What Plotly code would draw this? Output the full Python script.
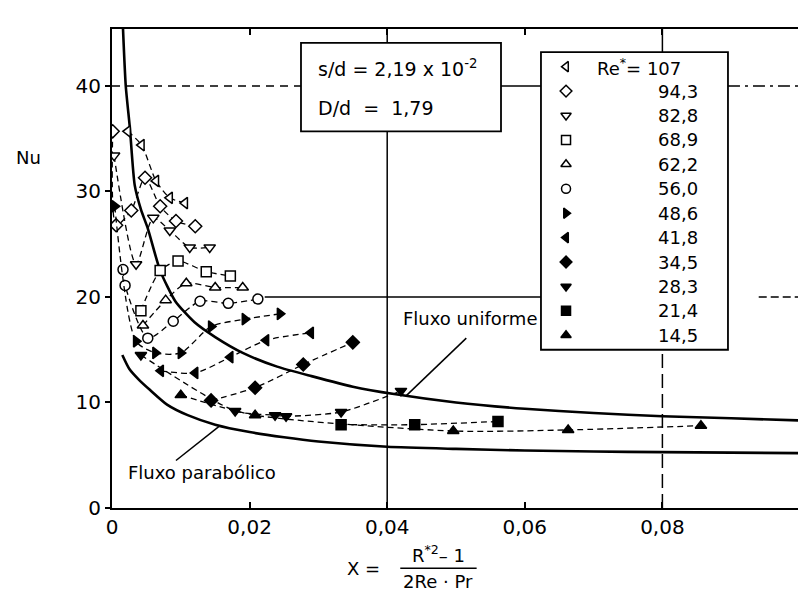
import plotly.graph_objects as go

# ---------------- data ----------------
re_labels = ["107", "94,3", "82,8", "68,9", "62,2", "56,0",
             "48,6", "41,8", "34,5", "28,3", "21,4", "14,5"]
symbols = ["triangle-left", "diamond", "triangle-down", "square", "triangle-up", "circle",
           "triangle-right", "triangle-left", "diamond", "triangle-down", "square", "triangle-up"]
fills = ["white"] * 6 + ["black"] * 6

x_107 = [0.0023, 0.0043, 0.0064, 0.0084, 0.0106]
nu_107 = [35.7, 34.4, 31.0, 29.4, 28.9]
x_943 = [0.0001, 0.0006, 0.0028, 0.0048, 0.0070, 0.0093, 0.0121]
nu_943 = [35.7, 26.8, 28.2, 31.3, 28.6, 27.2, 26.7]
x_828 = [0.0003, 0.0035, 0.0060, 0.0084, 0.0113, 0.0142]
nu_828 = [33.4, 23.1, 27.5, 26.3, 24.7, 24.7]
x_689 = [0.0042, 0.0070, 0.0096, 0.0137, 0.0172]
nu_689 = [18.7, 22.5, 23.4, 22.4, 22.0]
x_622 = [0.0045, 0.0078, 0.0108, 0.0150, 0.0190]
nu_622 = [17.3, 19.7, 21.3, 20.9, 20.9]
x_560 = [0.0016, 0.0019, 0.0052, 0.0089, 0.0128, 0.0169, 0.0212]
nu_560 = [22.6, 21.1, 16.1, 17.7, 19.6, 19.4, 19.8]
x_486 = [0.0004, 0.0035, 0.0063, 0.0100, 0.0144, 0.0193, 0.0244]
nu_486 = [28.6, 15.8, 14.7, 14.7, 17.2, 17.9, 18.4]
x_418 = [0.0071, 0.0121, 0.0172, 0.0224, 0.0289]
nu_418 = [13.0, 12.8, 14.3, 15.9, 16.6]
x_345 = [0.0144, 0.0208, 0.0278, 0.0350]
nu_345 = [10.2, 11.4, 13.6, 15.7]
x_283 = [0.0042, 0.0179, 0.0237, 0.0253, 0.0333, 0.0420]
nu_283 = [14.5, 9.2, 8.8, 8.7, 9.1, 11.1]
x_214 = [0.0333, 0.0440, 0.0561]
nu_214 = [7.9, 7.9, 8.2]
x_145 = [0.0100, 0.0208, 0.0496, 0.0663, 0.0856]
nu_145 = [10.7, 8.8, 7.3, 7.4, 7.8]

series_x = [x_107, x_943, x_828, x_689, x_622, x_560, x_486, x_418, x_345, x_283, x_214, x_145]
series_nu = [nu_107, nu_943, nu_828, nu_689, nu_622, nu_560, nu_486, nu_418, nu_345, nu_283, nu_214, nu_145]

# theoretical curves
x_unif = [0.0016, 0.0020, 0.0026, 0.0033, 0.0042, 0.0052, 0.0070, 0.0092, 0.012, 0.015,
          0.019, 0.024, 0.029, 0.035, 0.041, 0.05, 0.06, 0.07, 0.08, 0.09, 0.1]
nu_unif = [45.4, 40.0, 36.0, 30.6, 28.3, 26.5, 22.5, 19.6, 17.6, 16.2,
           14.7, 13.4, 12.5, 11.5, 10.8, 10.0, 9.4, 9.0, 8.7, 8.5, 8.3]
x_parab = [0.0015, 0.0025, 0.004, 0.0055, 0.008, 0.011, 0.015, 0.02, 0.025, 0.03,
           0.04, 0.05, 0.06, 0.07, 0.08, 0.09, 0.1]
nu_parab = [14.5, 13.2, 12.1, 11.2, 9.8, 8.8, 7.9, 7.2, 6.7, 6.3,
            5.8, 5.6, 5.45, 5.35, 5.3, 5.25, 5.2]

x_ticks = [0, 0.02, 0.04, 0.06, 0.08, 0.1]
x_ticktext = ["0", "0,02", "0,04", "0,06", "0,08", "0,1"]
y_ticks = [0, 10, 20, 30, 40]

FONT = "DejaVu Sans"
X_MAX, Y_MAX = 0.1, 45.4

fig = go.Figure()

fig.add_trace(go.Scatter(x=x_unif, y=nu_unif, mode="lines", showlegend=False,
                         line=dict(color="black", width=2.6, shape="spline", smoothing=0.6)))
fig.add_trace(go.Scatter(x=x_parab, y=nu_parab, mode="lines", showlegend=False,
                         line=dict(color="black", width=2.6, shape="spline", smoothing=0.6)))

for xs, ys, sym, fc in zip(series_x, series_nu, symbols, fills):
    fig.add_trace(go.Scatter(
        x=xs, y=ys, mode="lines+markers", showlegend=False,
        line=dict(color="black", width=1.3, dash="6px,4px", shape="spline", smoothing=0.7),
        marker=dict(symbol=sym, size=10, color=fc, line=dict(color="black", width=1.5))))

# legend markers on a hidden helper axis
rows = list(range(len(re_labels)))
fig.add_trace(go.Scatter(
    x=[0.134] * len(rows), y=rows, mode="markers", showlegend=False,
    xaxis="x2", yaxis="y2",
    marker=dict(symbol=symbols, size=9, color=fills, line=dict(color="black", width=1.5))))


def txt(text, x, y, xref="paper", yref="paper", size=18, xanchor="center", yanchor="middle"):
    return dict(x=x, y=y, xref=xref, yref=yref, text=text, showarrow=False,
                xanchor=xanchor, yanchor=yanchor,
                font=dict(family=FONT, size=size, color="black"))


annotations = []
for i, lab in enumerate(re_labels):
    if i == 0:
        annotations.append(txt("Re<sup>*</sup>= " + lab, 0.76, i, "x2", "y2", xanchor="right"))
    else:
        annotations.append(txt(lab, 0.85, i, "x2", "y2", xanchor="right"))

annotations += [
    txt("s/d = 2,19 x 10<sup>-2</sup>", 0.2965, 0.918, size=19, xanchor="left"),
    txt("D/d\u00a0 =\u00a0 1,79", 0.2965, 0.835, size=19, xanchor="left"),
    txt("Nu", -0.121, 0.731),
    txt("Fluxo uniforme", 0.052, 18.0, "x", "y"),
    txt("Fluxo parabólico", 0.0131, 3.4, "x", "y"),
    txt("X =", 0.366, -0.126),
    txt("R<sup>*2</sup>– 1", 0.474, -0.097),
    txt("2Re · Pr", 0.474, -0.153),
]

box_l, box_r, box_top, box_bot = 0.02747, 0.05654, 44.08, 35.7
leg_l, leg_r, leg_top, leg_bot = 0.06235, 0.08953, 43.2, 15.0
blk = dict(color="black", width=1.5)
shapes = [
    dict(type="line", xref="x", yref="y", x0=0, x1=box_l, y0=40, y1=40, line=dict(color="black", width=1.5, dash="8px,6px")),
    dict(type="line", xref="x", yref="y", x0=box_r, x1=leg_l, y0=40, y1=40, line=blk),
    dict(type="line", xref="x", yref="y", x0=leg_r, x1=X_MAX, y0=40, y1=40, line=dict(color="black", width=1.5, dash="12px,5px,3px,5px")),
    dict(type="line", xref="x", yref="y", x0=0.0222, x1=leg_l, y0=20, y1=20, line=blk),
    dict(type="line", xref="x", yref="y", x0=0.094, x1=X_MAX, y0=20, y1=20, line=dict(color="black", width=1.5, dash="8px,4px")),
    dict(type="line", xref="x", yref="y", x0=0.04, x1=0.04, y0=0, y1=box_bot, line=blk),
    dict(type="line", xref="x", yref="y", x0=0.04, x1=0.04, y0=box_top, y1=Y_MAX, line=blk),
    dict(type="line", xref="x", yref="y", x0=0.08, x1=0.08, y0=0, y1=leg_bot, line=dict(color="black", width=1.5, dash="14px,6px")),
    dict(type="line", xref="x", yref="y", x0=0.08, x1=0.08, y0=leg_top, y1=Y_MAX, line=blk),
    dict(type="line", xref="x", yref="y", x0=0.0427, y0=10.6, x1=0.0515, y1=16.1, line=blk),
    dict(type="line", xref="x", yref="y", x0=0.0157, y0=7.8, x1=0.0093, y1=4.5, line=blk),
    dict(type="rect", xref="x", yref="y", x0=box_l, x1=box_r, y0=box_bot, y1=box_top,
         line=dict(color="black", width=1.8), fillcolor="rgba(0,0,0,0)"),
    dict(type="rect", xref="x", yref="y", x0=leg_l, x1=leg_r, y0=leg_bot, y1=leg_top,
         line=dict(color="black", width=1.8), fillcolor="rgba(0,0,0,0)"),
    dict(type="line", xref="paper", yref="paper", x0=0.419, x1=0.53, y0=-0.126, y1=-0.126,
         line=dict(color="black", width=1.5)),
]

fig.update_layout(
    width=806, height=593,
    margin=dict(l=104, r=14, t=21, b=93),
    paper_bgcolor="white", plot_bgcolor="white",
    font=dict(family=FONT, size=20, color="black"),
    showlegend=False,
    xaxis=dict(range=[0, X_MAX], tickvals=x_ticks, ticktext=x_ticktext,
               ticks="inside", ticklen=6, tickwidth=1.5, tickcolor="black",
               showline=True, linewidth=2, linecolor="black", mirror="ticks",
               showgrid=False, zeroline=False, tickfont=dict(size=20)),
    yaxis=dict(range=[0, Y_MAX], tickvals=y_ticks,
               ticks="outside", ticklen=5, tickwidth=1.5, tickcolor="black",
               showline=True, linewidth=2, linecolor="black", mirror=True,
               showgrid=False, zeroline=False, tickfont=dict(size=20)),
    xaxis2=dict(domain=[0.6235, 0.8953], anchor="y2", range=[0, 1], visible=False, fixedrange=True),
    yaxis2=dict(domain=[0.33, 0.952], anchor="x2", range=[11.6, -0.6], visible=False, fixedrange=True),
    annotations=annotations,
    shapes=shapes,
)

fig.write_html("out.html")
